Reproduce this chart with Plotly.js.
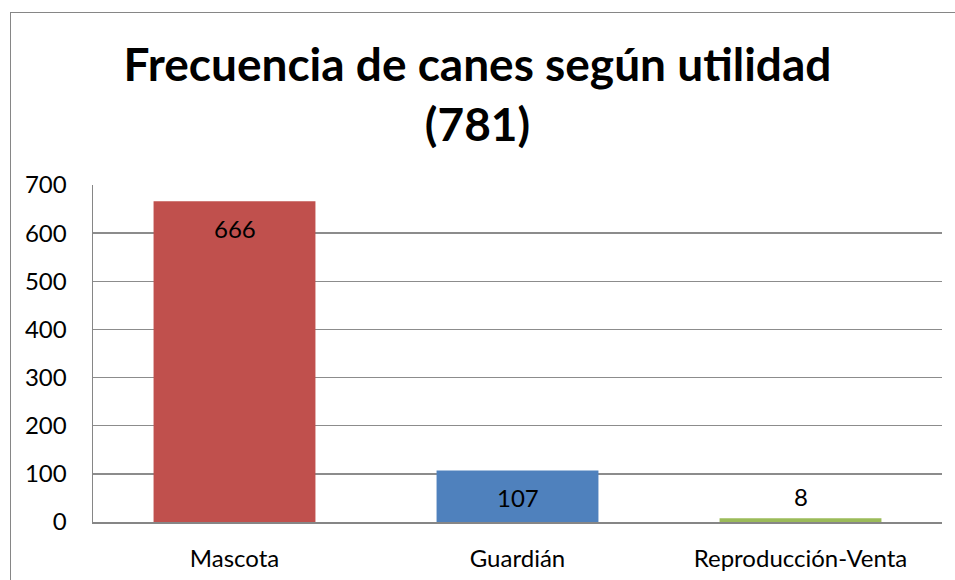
<!DOCTYPE html>
<html>
<head>
<meta charset="utf-8">
<script src="https://cdn.plot.ly/plotly-3.0.1.min.js"></script>
<style>
html,body{margin:0;padding:0;background:#fff;}
#wrap{position:relative;width:955px;height:580px;overflow:hidden;}
#frame{position:absolute;left:10px;top:12px;width:1000px;height:700px;border:1.5px solid #868686;box-sizing:border-box;pointer-events:none;}
#chart{position:absolute;left:0;top:0;width:955px;height:580px;}
</style>
</head>
<body>
<div id="wrap"><div id="chart"></div><div id="frame"></div></div>
<script>
const categories = ["Mascota", "Guardián", "Reproducción-Venta"];
const values = [666, 107, 8];
const barColors = ["#C0504D", "#4F81BD", "#9BBB59"];
const yTicks = [0, 100, 200, 300, 400, 500, 600, 700];
const titleText = "Frecuencia de canes según utilidad<br>(781)";

const FONT = "Lato, 'Open Sans', sans-serif";

const trace = {
  type: "bar",
  x: categories,
  y: values,
  marker: { color: barColors, line: { width: 0 } },
  hoverinfo: "x+y"
};

const annotations = values.map((v, i) => {
  const inside = v > 60;
  return {
    x: categories[i], y: v, xref: "x", yref: "y",
    text: String(v), showarrow: false,
    yanchor: "middle", yshift: inside ? -27 : 22,
    font: { family: FONT, size: 24, color: "#000" }
  };
});

const layout = {
  width: 955, height: 580,
  margin: { l: 93, r: 13, t: 185, b: 58, pad: 0 },
  paper_bgcolor: "rgba(0,0,0,0)", plot_bgcolor: "rgba(0,0,0,0)",
  showlegend: false,
  bargap: 0.428,
  title: {
    text: titleText,
    font: { family: FONT, size: 46, color: "#000", weight: 700 },
    x: 0.5, xanchor: "center",
    y: 0.86, yref: "container", yanchor: "top"
  },
  xaxis: {
    type: "category",
    showgrid: false, zeroline: false,
    showline: true, linecolor: "#868686", linewidth: 2,
    ticks: "", tickfont: { family: FONT, size: 24, color: "#000" },
    ticklabelstandoff: 14
  },
  yaxis: {
    range: [0, 700], tickvals: yTicks, ticktext: yTicks.map(String),
    showgrid: true, gridcolor: "#8c8c8c", gridwidth: 1.5,
    zeroline: false, showline: true, linecolor: "#868686", linewidth: 1.5,
    ticks: "", tickfont: { family: FONT, size: 24, color: "#000" },
    ticklabelstandoff: 20
  },
  annotations: annotations
};

Plotly.newPlot("chart", [trace], layout, { displayModeBar: false, staticPlot: true });
</script>
</body>
</html>
